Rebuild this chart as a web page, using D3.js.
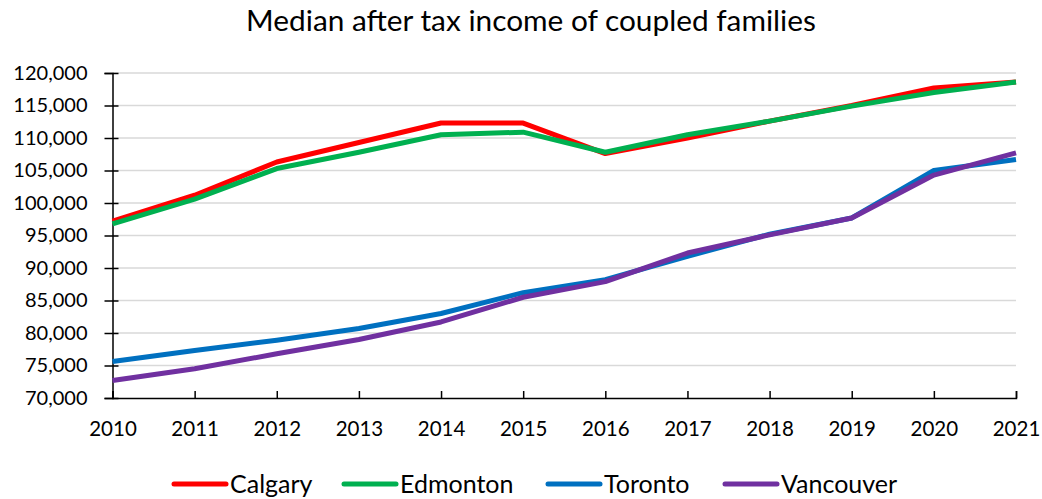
<!DOCTYPE html>
<html><head><meta charset="utf-8">
<script src="https://cdn.jsdelivr.net/npm/d3@7"></script>
<style>body{margin:0;background:#fff}svg{display:block}text{font-family:Lato,"Open Sans",sans-serif;fill:#000}</style>
</head><body>
<script>
const years = [2010,2011,2012,2013,2014,2015,2016,2017,2018,2019,2020,2021];
const calgary   = [97200,101200,106300,109300,112300,112300,107600,110000,112600,115000,117700,118600];
const edmonton  = [96800,100600,105300,107800,110500,110900,107800,110500,112600,114900,117000,118600];
const toronto   = [75600,77300,78900,80700,83000,86200,88200,91800,95200,97700,105000,106700];
const vancouver = [72700,74500,76800,79000,81700,85500,87900,92300,95100,97700,104300,107700];
const seriesNames = ["Calgary","Edmonton","Toronto","Vancouver"];
const seriesColors = ["#ff0000","#00b050","#0070c0","#7030a0"];
const yTicks = [70000,75000,80000,85000,90000,95000,100000,105000,110000,115000,120000];
const title = "Median after tax income of coupled families";

const W=1042,H=499;
const svg=d3.select("body").append("svg").attr("width",W).attr("height",H);
const x=d3.scalePoint().domain(years).range([112.5,1016]);
const y=d3.scaleLinear().domain([70000,120000]).range([398,73]);

svg.append("text").attr("x",531).attr("y",31).attr("text-anchor","middle").attr("font-size",29.8).text(title);

// gridlines
svg.append("g").selectAll("line").data(yTicks.slice(1)).join("line")
  .attr("x1",112.5).attr("x2",1016).attr("y1",d=>y(d)).attr("y2",d=>y(d))
  .attr("stroke","#d9d9d9").attr("stroke-width",1.5);

// y axis
const fmt=d3.format(",");
const ya=svg.append("g").attr("transform","translate(112.5,0)")
  .call(d3.axisLeft(y).tickValues(yTicks).tickFormat(fmt).tickSize(8).tickPadding(17));
ya.select(".domain").attr("stroke","#000").attr("stroke-width",1.5);
ya.selectAll(".tick line").attr("x2",6).attr("x1",-8).attr("stroke","#000").attr("stroke-width",1.5);
ya.selectAll("text").attr("font-size",20).attr("font-family","Lato").attr("fill","#000");

// x axis
const xa=svg.append("g").attr("transform","translate(0,398)")
  .call(d3.axisBottom(x).tickSize(-7).tickPadding(23));
xa.select(".domain").attr("stroke","#000").attr("stroke-width",1.5);
xa.selectAll(".tick line").attr("stroke","#000").attr("stroke-width",1.5);
xa.selectAll("text").attr("font-size",20.5).attr("font-family","Lato").attr("fill","#000");

const data=[calgary,edmonton,toronto,vancouver];
const line=d3.line().x((d,i)=>x(years[i])).y(d=>y(d));
svg.append("g").selectAll("path").data(data).join("path")
  .attr("d",line).attr("fill","none").attr("stroke",(d,i)=>seriesColors[i])
  .attr("stroke-width",5).attr("stroke-linejoin","round");

// legend
const legX=[172,342,546,723];
const lg=svg.append("g").selectAll("g").data(seriesNames).join("g")
  .attr("transform",(d,i)=>`translate(${legX[i]},484)`);
lg.append("line").attr("x1",2).attr("x2",54).attr("stroke",(d,i)=>seriesColors[i]).attr("stroke-width",5).attr("stroke-linecap","round");
lg.append("text").attr("x",58).attr("y",9).attr("font-size",25).text(d=>d);
</script>
</body></html>
